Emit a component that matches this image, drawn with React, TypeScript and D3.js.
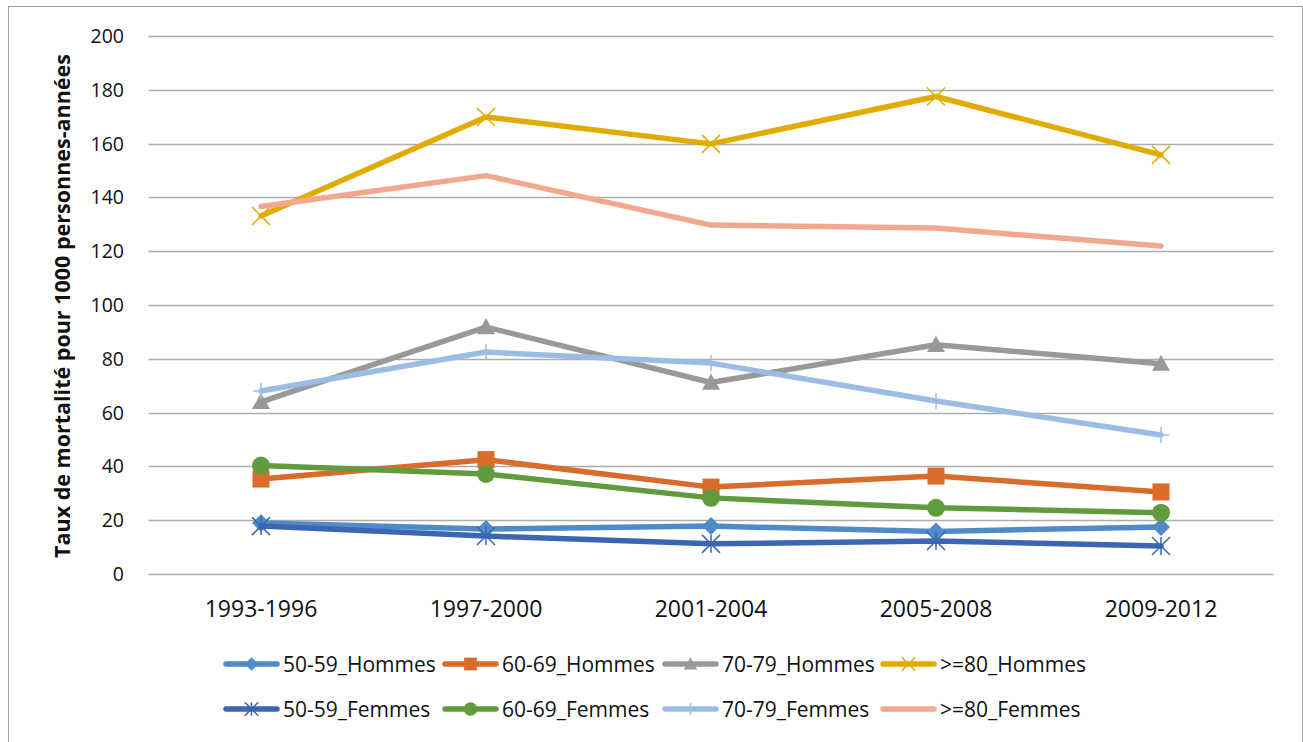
import React from "react";
import * as d3 from "d3";

const categories = ["1993-1996", "1997-2000", "2001-2004", "2005-2008", "2009-2012"];
const yTicks = [0, 20, 40, 60, 80, 100, 120, 140, 160, 180, 200];

const h5059 = [19.0, 16.7, 17.8, 15.8, 17.5];
const h6069 = [35.3, 42.5, 32.3, 36.4, 30.5];
const h7079 = [64.0, 91.8, 71.2, 85.2, 78.2];
const h80 = [133.1, 169.9, 159.9, 177.5, 155.8];
const f5059 = [17.8, 14.1, 11.2, 12.3, 10.4];
const f6069 = [40.3, 37.2, 28.3, 24.6, 22.8];
const f7079 = [68.0, 82.5, 78.4, 64.3, 51.7];
const f80 = [136.6, 148.1, 129.7, 128.6, 121.9];

const seriesNames = [
  "50-59_Hommes", "60-69_Hommes", "70-79_Hommes", ">=80_Hommes",
  "50-59_Femmes", "60-69_Femmes", "70-79_Femmes", ">=80_Femmes",
];
const seriesValues = [h5059, h6069, h7079, h80, f5059, f6069, f7079, f80];
const seriesColors = ["#4E8BC8", "#D96B2B", "#999999", "#E2AB00", "#3C66B1", "#629B3D", "#9BBDE3", "#F2A88D"];
const seriesMarkers = ["diamond", "square", "triangle", "x", "asterisk", "circle", "plus", "none"];

const FONT = "'Open Sans', 'Noto Sans', sans-serif";

function Marker({ type, x, y, color, scale = 1 }: { type: string; x: number; y: number; color: string; scale?: number }) {
  const s = scale;
  switch (type) {
    case "diamond": {
      const r = 9 * s;
      return <path d={`M${x},${y - r}L${x + r},${y}L${x},${y + r}L${x - r},${y}Z`} fill={color} />;
    }
    case "square": {
      const r = 8.5 * s;
      return <rect x={x - r} y={y - r} width={2 * r} height={2 * r} fill={color} />;
    }
    case "triangle": {
      const r = 9 * s;
      return <path d={`M${x},${y - r}L${x + r},${y + r * 0.8}L${x - r},${y + r * 0.8}Z`} fill={color} />;
    }
    case "circle":
      return <circle cx={x} cy={y} r={9 * s} fill={color} />;
    case "x": {
      const r = 9 * s;
      return (
        <path d={`M${x - r},${y - r}L${x + r},${y + r}M${x - r},${y + r}L${x + r},${y - r}`} stroke={color} strokeWidth={1.5} fill="none" />
      );
    }
    case "asterisk": {
      const r = 9 * s;
      return (
        <path
          d={`M${x - r},${y - r}L${x + r},${y + r}M${x - r},${y + r}L${x + r},${y - r}M${x},${y - r}L${x},${y + r}`}
          stroke={color}
          strokeWidth={1.5}
          fill="none"
        />
      );
    }
    case "plus": {
      const r = 8 * s;
      return <path d={`M${x - r},${y}L${x + r},${y}M${x},${y - r}L${x},${y + r}`} stroke={color} strokeWidth={1.5} fill="none" />;
    }
    default:
      return null;
  }
}

export default function App() {
  const W = 1303;
  const H = 742;
  const left = 148.5;
  const right = 1273.5;
  const x = d3.scaleBand<string>().domain(categories).range([left, right]);
  const cx = (c: string) => (x(c) as number) + x.bandwidth() / 2;
  const y = d3.scaleLinear().domain([0, 200]).range([574, 36]);
  const line = d3
    .line<number>()
    .x((_, i) => cx(categories[i]))
    .y((d) => y(d));

  const legendCols = [223, 442, 662, 880];
  const legendRows = [664, 709];

  return (
    <svg width={W} height={H} style={{ position: "absolute", left: 0, top: 0, background: "#fff" }} fontFamily={FONT}>
      <rect x={8.5} y={6.5} width={1294} height={740} fill="#fff" stroke="#A0A0A0" strokeWidth={1} />
      {yTicks.map((t) => (
        <g key={t}>
          <line x1={left} x2={right} y1={Math.round(y(t)) + 0.5} y2={Math.round(y(t)) + 0.5} stroke="#ADADAD" strokeWidth={1.5} />
          <text x={124} y={y(t)} dy="0.36em" textAnchor="end" fontSize={19.5} fill="#111">
            {t}
          </text>
        </g>
      ))}
      {categories.map((c) => (
        <text key={c} x={cx(c)} y={617} textAnchor="middle" fontSize={23} fill="#111">
          {c}
        </text>
      ))}
      <text
        transform={`translate(70,306) rotate(-90)`}
        textAnchor="middle"
        fontSize={21.5}
        fontWeight="bold"
        fill="#111"
      >
        Taux de mortalité pour 1000 personnes-années
      </text>
      {seriesValues.map((vals, si) => (
        <g key={seriesNames[si]}>
          <path d={line(vals) || ""} fill="none" stroke={seriesColors[si]} strokeWidth={5.5} strokeLinejoin="round" strokeLinecap="round" />
          {vals.map((v, i) => (
            <Marker key={i} type={seriesMarkers[si]} x={cx(categories[i])} y={y(v)} color={seriesColors[si]} />
          ))}
        </g>
      ))}
      {seriesNames.map((name, si) => {
        const lx = legendCols[si % 4];
        const ly = legendRows[Math.floor(si / 4)];
        return (
          <g key={name}>
            <line x1={lx + 3} x2={lx + 54} y1={ly} y2={ly} stroke={seriesColors[si]} strokeWidth={5.5} strokeLinecap="round" />
            <Marker type={seriesMarkers[si]} x={lx + 28.5} y={ly} color={seriesColors[si]} scale={0.75} />
            <text x={lx + 60} y={ly} dy="0.36em" fontSize={21} fill="#111">
              {name}
            </text>
          </g>
        );
      })}
    </svg>
  );
}
